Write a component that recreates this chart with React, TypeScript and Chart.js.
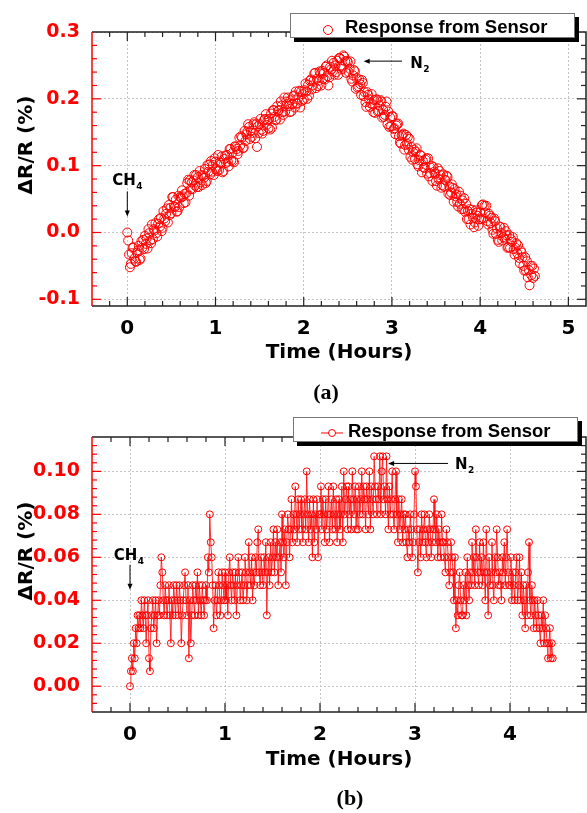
import React, { useEffect, useRef } from 'react';
import { Chart, registerables } from 'chart.js';

Chart.register(...registerables);

// ---------------- shared text ----------------
const LEGEND_LABEL = 'Response from Sensor';
const X_TITLE = 'Time (Hours)';
const Y_TITLE = 'ΔR/R (%)';
const RED = '#ff0000';

// ---------------- panel (a) data ----------------
const A_START_H = 0;        // first sample (hours)
const A_STEP_H = 0.01;      // logger sampling interval (hours)
const A_RESPONSE = [
  0.000, -0.012, -0.033, -0.052, -0.047, -0.031, -0.023, -0.022, -0.039, -0.043, -0.044, -0.030,
  -0.027, -0.020, -0.041, -0.039, -0.013, -0.023, -0.011, -0.025, -0.005, -0.017, -0.009, -0.024,
  0.005, -0.001, -0.012, -0.016, 0.012, -0.010, 0.005, 0.003, 0.014, -0.001, -0.006, 0.013,
  0.020, 0.009, 0.022, 0.002, 0.007, 0.032, 0.021, 0.017, 0.028, 0.036, 0.015, 0.041,
  0.026, 0.037, 0.029, 0.053, 0.053, 0.039, 0.038, 0.049, 0.031, 0.032, 0.055, 0.038,
  0.053, 0.052, 0.063, 0.054, 0.044, 0.058, 0.045, 0.059, 0.074, 0.079, 0.055, 0.078,
  0.065, 0.075, 0.065, 0.078, 0.086, 0.070, 0.086, 0.068, 0.083, 0.068, 0.092, 0.075,
  0.086, 0.071, 0.085, 0.082, 0.095, 0.074, 0.077, 0.101, 0.091, 0.102, 0.087, 0.107,
  0.091, 0.101, 0.086, 0.111, 0.106, 0.095, 0.092, 0.116, 0.093, 0.105, 0.104, 0.114,
  0.090, 0.092, 0.110, 0.115, 0.104, 0.116, 0.106, 0.099, 0.125, 0.125, 0.108, 0.119,
  0.107, 0.105, 0.129, 0.128, 0.125, 0.117, 0.122, 0.142, 0.130, 0.144, 0.142, 0.126,
  0.127, 0.152, 0.137, 0.147, 0.151, 0.162, 0.158, 0.140, 0.152, 0.143, 0.149, 0.162,
  0.165, 0.141, 0.162, 0.128, 0.159, 0.149, 0.162, 0.170, 0.154, 0.148, 0.152, 0.168,
  0.170, 0.177, 0.161, 0.168, 0.156, 0.170, 0.154, 0.178, 0.157, 0.183, 0.183, 0.173,
  0.168, 0.169, 0.189, 0.182, 0.183, 0.169, 0.196, 0.190, 0.180, 0.176, 0.202, 0.181,
  0.196, 0.192, 0.202, 0.189, 0.180, 0.198, 0.181, 0.192, 0.204, 0.205, 0.187, 0.211,
  0.193, 0.193, 0.202, 0.212, 0.187, 0.211, 0.197, 0.207, 0.199, 0.213, 0.223, 0.211,
  0.200, 0.221, 0.205, 0.227, 0.229, 0.214, 0.220, 0.227, 0.238, 0.239, 0.216, 0.230,
  0.219, 0.227, 0.241, 0.238, 0.220, 0.242, 0.230, 0.239, 0.229, 0.248, 0.250, 0.234,
  0.220, 0.232, 0.248, 0.244, 0.257, 0.241, 0.254, 0.236, 0.250, 0.240, 0.257, 0.236,
  0.261, 0.261, 0.250, 0.248, 0.245, 0.265, 0.263, 0.256, 0.239, 0.257, 0.255, 0.240,
  0.245, 0.256, 0.230, 0.226, 0.235, 0.243, 0.241, 0.215, 0.231, 0.217, 0.219, 0.229,
  0.222, 0.206, 0.228, 0.224, 0.204, 0.210, 0.195, 0.188, 0.210, 0.206, 0.199, 0.188,
  0.193, 0.207, 0.192, 0.180, 0.198, 0.179, 0.199, 0.199, 0.181, 0.182, 0.190, 0.198,
  0.196, 0.172, 0.183, 0.173, 0.176, 0.188, 0.196, 0.162, 0.181, 0.158, 0.172, 0.159,
  0.174, 0.174, 0.155, 0.156, 0.147, 0.160, 0.162, 0.163, 0.144, 0.135, 0.133, 0.145,
  0.146, 0.148, 0.124, 0.131, 0.146, 0.133, 0.143, 0.124, 0.140, 0.113, 0.128, 0.109,
  0.120, 0.124, 0.110, 0.121, 0.126, 0.102, 0.099, 0.108, 0.116, 0.115, 0.090, 0.107,
  0.097, 0.097, 0.109, 0.111, 0.088, 0.111, 0.084, 0.089, 0.097, 0.100, 0.077, 0.098,
  0.091, 0.088, 0.077, 0.070, 0.096, 0.080, 0.092, 0.086, 0.067, 0.071, 0.087, 0.069,
  0.079, 0.078, 0.085, 0.083, 0.058, 0.069, 0.056, 0.060, 0.072, 0.067, 0.046, 0.065,
  0.054, 0.057, 0.046, 0.039, 0.061, 0.043, 0.055, 0.035, 0.048, 0.035, 0.051, 0.031,
  0.043, 0.020, 0.032, 0.020, 0.035, 0.012, 0.028, 0.034, 0.022, 0.008, 0.015, 0.033,
  0.030, 0.025, 0.010, 0.020, 0.030, 0.020, 0.041, 0.042, 0.021, 0.040, 0.030, 0.040,
  0.017, 0.012, 0.028, 0.025, 0.014, 0.022, 0.004, -0.002, 0.021, 0.017, -0.002, 0.006,
  -0.011, -0.014, 0.009, 0.008, -0.001, -0.012, -0.007, 0.007, -0.009, 0.002, -0.004, -0.023,
  -0.022, -0.004, -0.023, -0.010, -0.014, -0.007, -0.025, -0.033, -0.023, -0.016, -0.031, -0.019,
  -0.038, -0.046, -0.027, -0.030, -0.037, -0.050, -0.057, -0.037, -0.057, -0.043, -0.067, -0.056,
  -0.079, -0.050, -0.064, -0.050, -0.068, -0.054, -0.065,
];
const A_X_TICKS = [0, 1, 2, 3, 4, 5];
const A_Y_TICKS = [-0.1, 0, 0.1, 0.2, 0.3];

// ---------------- panel (b) data ----------------
const B_START_H = 0;
const B_STEP_H = 0.01;
const B_RESPONSE = [
  0, 0.007, 0.013, 0.007, 0.02, 0.013, 0.027, 0.02, 0.033, 0.027,
  0.033, 0.027, 0.04, 0.033, 0.027, 0.04, 0.033, 0.02, 0.033, 0.04,
  0.013, 0.007, 0.027, 0.033, 0.04, 0.027, 0.033, 0.04, 0.02, 0.033,
  0.04, 0.033, 0.047, 0.06, 0.053, 0.04, 0.033, 0.047, 0.04, 0.033,
  0.04, 0.047, 0.033, 0.02, 0.04, 0.033, 0.047, 0.04, 0.033, 0.047,
  0.04, 0.033, 0.047, 0.04, 0.02, 0.033, 0.04, 0.047, 0.053, 0.04,
  0.033, 0.047, 0.013, 0.04, 0.02, 0.033, 0.047, 0.04, 0.033, 0.047,
  0.04, 0.053, 0.033, 0.047, 0.04, 0.033, 0.047, 0.04, 0.033, 0.04,
  0.047, 0.04, 0.06, 0.053, 0.08, 0.067, 0.06, 0.047, 0.027, 0.04,
  0.047, 0.033, 0.04, 0.053, 0.047, 0.033, 0.04, 0.053, 0.047, 0.04,
  0.053, 0.04, 0.047, 0.033, 0.053, 0.06, 0.047, 0.04, 0.053, 0.047,
  0.04, 0.053, 0.033, 0.047, 0.06, 0.053, 0.04, 0.047, 0.053, 0.04,
  0.047, 0.06, 0.053, 0.04, 0.047, 0.067, 0.053, 0.047, 0.06, 0.04,
  0.053, 0.047, 0.06, 0.053, 0.067, 0.073, 0.053, 0.047, 0.06, 0.053,
  0.047, 0.06, 0.053, 0.067, 0.033, 0.053, 0.06, 0.047, 0.067, 0.053,
  0.06, 0.073, 0.053, 0.067, 0.06, 0.073, 0.047, 0.06, 0.067, 0.053,
  0.08, 0.067, 0.06, 0.073, 0.047, 0.067, 0.08, 0.073, 0.06, 0.073,
  0.087, 0.067, 0.08, 0.073, 0.093, 0.08, 0.067, 0.087, 0.073, 0.08,
  0.087, 0.073, 0.067, 0.08, 0.087, 0.073, 0.1, 0.08, 0.067, 0.087,
  0.073, 0.08, 0.06, 0.087, 0.067, 0.08, 0.073, 0.087, 0.06, 0.08,
  0.08, 0.093, 0.073, 0.087, 0.08, 0.067, 0.087, 0.073, 0.08, 0.093,
  0.067, 0.08, 0.087, 0.073, 0.093, 0.08, 0.073, 0.087, 0.067, 0.08,
  0.087, 0.073, 0.08, 0.093, 0.067, 0.1, 0.08, 0.087, 0.093, 0.073,
  0.093, 0.08, 0.087, 0.073, 0.1, 0.087, 0.08, 0.093, 0.073, 0.087,
  0.073, 0.093, 0.08, 0.087, 0.1, 0.08, 0.093, 0.087, 0.073, 0.093,
  0.087, 0.08, 0.1, 0.073, 0.093, 0.087, 0.08, 0.107, 0.093, 0.087,
  0.08, 0.093, 0.087, 0.107, 0.08, 0.1, 0.107, 0.087, 0.093, 0.08,
  0.107, 0.087, 0.073, 0.093, 0.08, 0.087, 0.1, 0.08, 0.073, 0.087,
  0.1, 0.08, 0.067, 0.087, 0.073, 0.08, 0.087, 0.067, 0.08, 0.073,
  0.08, 0.067, 0.06, 0.073, 0.067, 0.08, 0.073, 0.06, 0.067, 0.08,
  0.1, 0.093, 0.073, 0.053, 0.067, 0.073, 0.06, 0.08, 0.067, 0.073,
  0.08, 0.067, 0.06, 0.073, 0.067, 0.08, 0.073, 0.06, 0.067, 0.073,
  0.087, 0.073, 0.067, 0.08, 0.06, 0.073, 0.067, 0.06, 0.08, 0.067,
  0.067, 0.06, 0.053, 0.073, 0.067, 0.06, 0.047, 0.053, 0.067, 0.06,
  0.053, 0.04, 0.06, 0.027, 0.04, 0.033, 0.047, 0.053, 0.04, 0.033,
  0.033, 0.047, 0.04, 0.053, 0.033, 0.06, 0.047, 0.04, 0.053, 0.047,
  0.067, 0.053, 0.06, 0.047, 0.073, 0.06, 0.053, 0.047, 0.067, 0.053,
  0.06, 0.047, 0.067, 0.053, 0.04, 0.073, 0.053, 0.033, 0.06, 0.047,
  0.053, 0.067, 0.047, 0.04, 0.06, 0.053, 0.073, 0.06, 0.047, 0.053,
  0.047, 0.04, 0.06, 0.053, 0.067, 0.047, 0.06, 0.073, 0.053, 0.047,
  0.047, 0.06, 0.04, 0.053, 0.047, 0.04, 0.053, 0.06, 0.04, 0.047,
  0.06, 0.04, 0.053, 0.033, 0.047, 0.04, 0.027, 0.047, 0.033, 0.053,
  0.067, 0.04, 0.033, 0.047, 0.04, 0.027, 0.04, 0.033, 0.027, 0.04,
  0.033, 0.027, 0.02, 0.033, 0.027, 0.04, 0.02, 0.033, 0.027, 0.02,
  0.013, 0.02, 0.027, 0.013, 0.02, 0.013,
];
const B_X_TICKS = [0, 1, 2, 3, 4];
const B_Y_TICKS = [0, 0.02, 0.04, 0.06, 0.08, 0.1];

// ---------------- panel configuration (layout / style) ----------------
type PanelCfg = {
  key: string;
  top: number;
  height: number;
  padTop: number;
  xAxisH: number;
  xMin: number; xMax: number; yMin: number; yMax: number;
  xTicks: number[]; yTicks: number[]; yDecimals: number;
  xMinorStep: number; yMinorStep: number;
  values: number[]; start: number; step: number;
  showLine: boolean; pointRadius: number; lineWidth: number;
  yTitleCY: number; xTitleBaseline: number;
  tag: string; tagX: number; tagBaseline: number;
  legend: { x: number; y: number; w: number; h: number; symX: number; symY: number; textX: number; textBaseline: number; line: boolean };
  ch4: { t: number; v: number; arrowT: number; arrowV0: number; arrowV1: number };
  n2: { t: number; v: number; arrowV: number; arrowT0: number; arrowT1: number };
};

const PANELS: PanelCfg[] = [
  {
    key: 'a', top: 0, height: 407, padTop: 32, xAxisH: 101,
    xMin: -0.4, xMax: 5.2, yMin: -0.11, yMax: 0.3,
    xTicks: A_X_TICKS, yTicks: A_Y_TICKS, yDecimals: 1,
    xMinorStep: 0.2, yMinorStep: 0.02,
    values: A_RESPONSE, start: A_START_H, step: A_STEP_H,
    showLine: false, pointRadius: 4.5, lineWidth: 1,
    yTitleCY: 145, xTitleBaseline: 358,
    tag: '(a)', tagX: 326, tagBaseline: 399,
    legend: { x: 290, y: 13, w: 285, h: 25, symX: 328, symY: 30, textX: 345, textBaseline: 33, line: false },
    ch4: { t: -0.17, v: 0.0715, arrowT: 0, arrowV0: 0.0615, arrowV1: 0.024 },
    n2: { t: 3.208, v: 0.2465, arrowV: 0.2564, arrowT0: 3.114, arrowT1: 2.68 },
  },
  {
    key: 'b', top: 407, height: 406, padTop: 30, xAxisH: 101,
    xMin: -0.4, xMax: 4.8, yMin: -0.012, yMax: 0.116,
    xTicks: B_X_TICKS, yTicks: B_Y_TICKS, yDecimals: 2,
    xMinorStep: 0.2, yMinorStep: 0.004,
    values: B_RESPONSE, start: B_START_H, step: B_STEP_H,
    showLine: true, pointRadius: 3.5, lineWidth: 0.8,
    yTitleCY: 144, xTitleBaseline: 358,
    tag: '(b)', tagX: 350, tagBaseline: 398,
    legend: { x: 293, y: 10, w: 285, h: 25, symX: 332, symY: 26, textX: 348, textBaseline: 30, line: true },
    ch4: { t: -0.171, v: 0.0589, arrowT: 0, arrowV0: 0.0565, arrowV1: 0.0449 },
    n2: { t: 3.421, v: 0.1009, arrowV: 0.1037, arrowT0: 3.348, arrowT1: 2.717 },
  },
];

const AXIS_FONT = "'DejaVu Sans', 'Liberation Sans', Arial, sans-serif";

function arrowHead(ctx: CanvasRenderingContext2D, x: number, y: number, dx: number, dy: number) {
  const len = 6, half = 2.5;
  const bx = x - dx * len, by = y - dy * len;
  ctx.beginPath();
  ctx.moveTo(x, y);
  ctx.lineTo(bx - dy * half, by + dx * half);
  ctx.lineTo(bx + dy * half, by - dx * half);
  ctx.closePath();
  ctx.fill();
}

function makeDeco(cfg: PanelCfg) {
  return {
    id: 'deco_' + cfg.key,
    afterDraw(chart: any) {
      const ctx: CanvasRenderingContext2D = chart.ctx;
      const { left, right, top, bottom } = chart.chartArea;
      const xs = chart.scales.x;
      const ys = chart.scales.y;
      ctx.save();

      // ---- tick marks (inward, all four sides) ----
      const MAJ = 9, MIN = 5;
      ctx.lineWidth = 1.2;
      const kx0 = Math.ceil(cfg.xMin / cfg.xMinorStep - 1e-6);
      const kx1 = Math.floor(cfg.xMax / cfg.xMinorStep + 1e-6);
      for (let k = kx0; k <= kx1; k++) {
        const px = xs.getPixelForValue(k * cfg.xMinorStep);
        if (px < left + 1 || px > right - 1) continue;
        const len = k % 5 === 0 ? MAJ : MIN;
        ctx.strokeStyle = '#222';
        ctx.beginPath();
        ctx.moveTo(px, bottom); ctx.lineTo(px, bottom - len);
        ctx.moveTo(px, top); ctx.lineTo(px, top + len);
        ctx.stroke();
      }
      const ky0 = Math.ceil(cfg.yMin / cfg.yMinorStep - 1e-6);
      const ky1 = Math.floor(cfg.yMax / cfg.yMinorStep + 1e-6);
      for (let k = ky0; k <= ky1; k++) {
        const py = ys.getPixelForValue(k * cfg.yMinorStep);
        if (py < top + 1 || py > bottom - 1) continue;
        const len = k % 5 === 0 ? MAJ : MIN;
        ctx.strokeStyle = RED;
        ctx.beginPath();
        ctx.moveTo(left, py); ctx.lineTo(left + len, py);
        ctx.stroke();
        ctx.strokeStyle = '#222';
        ctx.beginPath();
        ctx.moveTo(right, py); ctx.lineTo(right - len, py);
        ctx.stroke();
      }

      // ---- frame ----
      ctx.lineWidth = 1.5;
      ctx.strokeStyle = '#222';
      ctx.beginPath();
      ctx.moveTo(left, top); ctx.lineTo(right, top); ctx.lineTo(right, bottom); ctx.lineTo(left, bottom);
      ctx.stroke();
      ctx.strokeStyle = RED;
      ctx.beginPath();
      ctx.moveTo(left, top); ctx.lineTo(left, bottom);
      ctx.stroke();

      // ---- axis titles ----
      ctx.fillStyle = '#000';
      ctx.font = `bold 20px ${AXIS_FONT}`;
      ctx.textAlign = 'center';
      ctx.textBaseline = 'alphabetic';
      ctx.fillText(X_TITLE, (left + right) / 2, cfg.xTitleBaseline);
      ctx.save();
      ctx.translate(27, cfg.yTitleCY);
      ctx.rotate(-Math.PI / 2);
      ctx.textBaseline = 'middle';
      ctx.fillText(Y_TITLE, 0, 0);
      ctx.restore();

      // ---- panel tag ----
      ctx.font = "bold 22px 'Liberation Serif', 'Times New Roman', serif";
      ctx.textAlign = 'center';
      ctx.textBaseline = 'alphabetic';
      ctx.fillText(cfg.tag, cfg.tagX, cfg.tagBaseline);

      // ---- annotations ----
      ctx.textAlign = 'left';
      ctx.fillStyle = '#000';
      ctx.strokeStyle = '#000';
      ctx.lineWidth = 1;
      {
        const tx = xs.getPixelForValue(cfg.ch4.t);
        const ty = ys.getPixelForValue(cfg.ch4.v);
        ctx.font = `bold 15px ${AXIS_FONT}`;
        ctx.fillText('CH', tx, ty);
        const w = ctx.measureText('CH').width;
        ctx.font = `bold 9px ${AXIS_FONT}`;
        ctx.fillText('4', tx + w + 0.5, ty + 4);
        const ax = xs.getPixelForValue(cfg.ch4.arrowT);
        const ay0 = ys.getPixelForValue(cfg.ch4.arrowV0);
        const ay1 = ys.getPixelForValue(cfg.ch4.arrowV1);
        ctx.beginPath();
        ctx.moveTo(ax, ay0); ctx.lineTo(ax, ay1 - 4);
        ctx.stroke();
        arrowHead(ctx, ax, ay1, 0, 1);
      }
      {
        const tx = xs.getPixelForValue(cfg.n2.t);
        const ty = ys.getPixelForValue(cfg.n2.v);
        ctx.font = `bold 15px ${AXIS_FONT}`;
        ctx.fillText('N', tx, ty);
        const w = ctx.measureText('N').width;
        ctx.font = `bold 9px ${AXIS_FONT}`;
        ctx.fillText('2', tx + w + 0.5, ty + 4);
        const ay = ys.getPixelForValue(cfg.n2.arrowV);
        const ax0 = xs.getPixelForValue(cfg.n2.arrowT0);
        const ax1 = xs.getPixelForValue(cfg.n2.arrowT1);
        ctx.beginPath();
        ctx.moveTo(ax0, ay); ctx.lineTo(ax1 + 4, ay);
        ctx.stroke();
        arrowHead(ctx, ax1, ay, -1, 0);
      }

      // ---- legend ----
      const L = cfg.legend;
      ctx.fillStyle = '#000';
      ctx.fillRect(L.x + 4, L.y + 4, L.w, L.h);
      ctx.fillStyle = '#fff';
      ctx.fillRect(L.x, L.y, L.w, L.h);
      ctx.strokeStyle = '#777';
      ctx.lineWidth = 1;
      ctx.strokeRect(L.x + 0.5, L.y + 0.5, L.w - 1, L.h - 1);
      const ds = chart.data.datasets[0];
      ctx.strokeStyle = ds.borderColor;
      if (L.line) {
        ctx.beginPath();
        ctx.moveTo(L.symX - 11, L.symY); ctx.lineTo(L.symX + 11, L.symY);
        ctx.stroke();
      }
      ctx.beginPath();
      ctx.arc(L.symX, L.symY, ds.pointRadius, 0, Math.PI * 2);
      ctx.fillStyle = '#fff';
      ctx.fill();
      ctx.stroke();
      ctx.fillStyle = '#000';
      ctx.font = "bold 18.5px 'Liberation Sans', Arial, sans-serif";
      ctx.textAlign = 'left';
      ctx.textBaseline = 'alphabetic';
      ctx.fillText(ds.label, L.textX, L.textBaseline);

      ctx.restore();
    },
  };
}

function Panel({ cfg }: { cfg: PanelCfg }) {
  const ref = useRef<HTMLCanvasElement | null>(null);
  useEffect(() => {
    if (!ref.current) return;
    const points = cfg.values.map((v, i) => ({ x: cfg.start + i * cfg.step, y: v }));
    const grid = { color: '#c4c4c4', lineWidth: 1, drawTicks: false };
    const border = { display: false, dash: [2, 2] };
    const chart = new Chart(ref.current, {
      type: 'scatter',
      data: {
        datasets: [
          {
            label: LEGEND_LABEL,
            data: points,
            showLine: cfg.showLine,
            borderColor: RED,
            borderWidth: cfg.lineWidth,
            backgroundColor: 'rgba(0,0,0,0)',
            pointRadius: cfg.pointRadius,
            pointBorderWidth: 1,
            pointBorderColor: RED,
            pointBackgroundColor: 'rgba(0,0,0,0)',
            pointHoverRadius: cfg.pointRadius,
          } as any,
        ],
      },
      options: {
        responsive: false,
        animation: false,
        devicePixelRatio: 1,
        events: [],
        layout: { autoPadding: false, padding: { top: cfg.padTop, right: 1, left: 0, bottom: 0 } },
        plugins: { legend: { display: false }, tooltip: { enabled: false } },
        scales: {
          x: {
            type: 'linear',
            min: cfg.xMin,
            max: cfg.xMax,
            grid,
            border,
            afterBuildTicks: (s: any) => { s.ticks = cfg.xTicks.map((v) => ({ value: v })); },
            afterFit: (s: any) => { s.height = cfg.xAxisH; },
            ticks: {
              autoSkip: false,
              maxRotation: 0,
              padding: 11,
              color: '#000',
              font: { family: AXIS_FONT, weight: 'bold', size: 20 },
              callback: (v: any) => String(v),
            },
          },
          y: {
            type: 'linear',
            min: cfg.yMin,
            max: cfg.yMax,
            grid,
            border,
            afterBuildTicks: (s: any) => { s.ticks = cfg.yTicks.map((v) => ({ value: v })); },
            afterFit: (s: any) => { s.width = 92; },
            ticks: {
              autoSkip: false,
              padding: 12,
              color: RED,
              font: { family: AXIS_FONT, weight: 'bold', size: 19 },
              callback: (v: any) => Number(v).toFixed(cfg.yDecimals),
            },
          },
        },
      } as any,
      plugins: [makeDeco(cfg)],
    });
    return () => chart.destroy();
  }, [cfg]);
  return (
    <canvas
      ref={ref}
      width={587}
      height={cfg.height}
      style={{ position: 'absolute', left: 0, top: cfg.top, width: 587, height: cfg.height }}
    />
  );
}

export default function App() {
  return (
    <div style={{ position: 'absolute', left: 0, top: 0, width: 587, height: 813, background: '#fff' }}>
      {PANELS.map((p) => (
        <Panel key={p.key} cfg={p} />
      ))}
    </div>
  );
}
